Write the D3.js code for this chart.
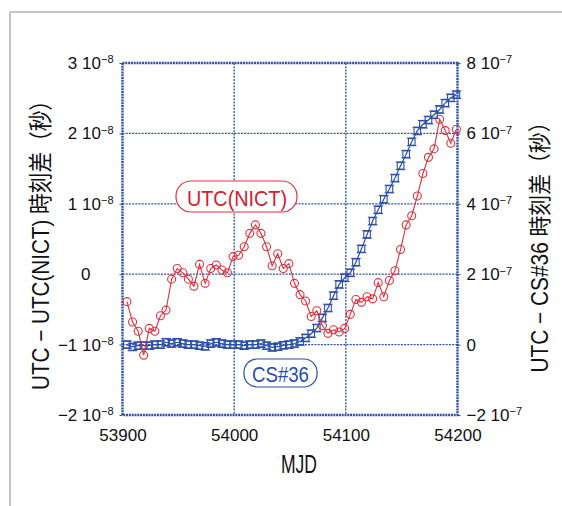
<!doctype html>
<html lang="ja">
<head>
<meta charset="utf-8">
<script src="https://cdn.jsdelivr.net/npm/d3@7"></script>
<style>
  body { margin: 0; background: #fff; }
  text { font-family: "Liberation Sans", Arial, "Noto Sans CJK JP", sans-serif; fill: #111; }
</style>
</head>
<body>
<script>
// MJD of each point (5-day steps)
var mjd = [53904, 53909, 53914, 53919, 53924, 53929, 53934, 53939, 53944, 53949,
           53954, 53959, 53964, 53969, 53974, 53979, 53984, 53989, 53994, 53999,
           54004, 54009, 54014, 54019, 54024, 54029, 54034, 54039, 54044, 54049,
           54054, 54059, 54064, 54069, 54074, 54079, 54084, 54089, 54094, 54099,
           54104, 54109, 54114, 54119, 54124, 54129, 54134, 54139, 54144, 54149,
           54154, 54159, 54164, 54169, 54174, 54179, 54184, 54189, 54194, 54199];

// UTC - UTC(NICT), in units of 1e-8 s (left axis)
var nict = [-0.39, -0.68, -0.81, -1.15, -0.77, -0.81, -0.59, -0.51, -0.07, 0.08,
            0.02, -0.07, -0.17, 0.14, -0.13, 0.08, 0.13, 0.06, 0.02, 0.25,
            0.27, 0.39, 0.58, 0.70, 0.58, 0.39, 0.12, 0.29, 0.08, 0.15,
            -0.13, -0.29, -0.38, -0.60, -0.52, -0.73, -0.84, -0.79, -0.82, -0.77,
            -0.57, -0.36, -0.40, -0.32, -0.35, -0.12, -0.32, -0.09, 0.05, 0.35,
            0.70, 0.83, 1.11, 1.43, 1.66, 1.78, 2.20, 2.04, 1.86, 2.06];

// UTC - CS#36, in units of 1e-7 s (right axis)
var cs36 = [0, -0.066, -0.03, -0.03, -0.03, 0, 0, 0.066, 0.03, 0.066,
            0.03, 0, 0, -0.03, -0.05, 0.03, 0.066, 0.03, 0, 0,
            0, -0.03, 0, 0, 0.03, -0.03, -0.08, -0.06, -0.02, 0,
            0.03, 0.09, 0.19, 0.31, 0.47, 0.76, 1.04, 1.39, 1.71, 1.90,
            2.04, 2.34, 2.72, 3.13, 3.51, 3.83, 4.13, 4.42, 4.73, 5.08,
            5.41, 5.76, 6.07, 6.26, 6.38, 6.53, 6.68, 6.86, 7.01, 7.10];

var xTicks = [53900, 54000, 54100, 54200];
var leftTicks = [-2, -1, 0, 1, 2, 3];     // x 1e-8
var rightTicks = [-2, 0, 2, 4, 6, 8];     // x 1e-7

var W = 562, H = 506;
var blue = "#2b4ea8", red = "#e0303c";
var plot = {left: 122.5, right: 457.5, top: 63, bottom: 415};

var svg = d3.select("body").append("svg")
            .attr("width", W)
            .attr("height", H);

// outer grey border (top + left)
svg.append("line").attr("x1", 10).attr("x2", W).attr("y1", 12).attr("y2", 12)
   .attr("stroke", "#c4c4c4").attr("stroke-width", 2);
svg.append("line").attr("x1", 10).attr("x2", 10).attr("y1", 12).attr("y2", H)
   .attr("stroke", "#c4c4c4").attr("stroke-width", 2);

var x = d3.scaleLinear().domain([53900, 54200]).range([plot.left, plot.right]);
var yL = d3.scaleLinear().domain([-2, 3]).range([plot.bottom, plot.top]);
var yR = d3.scaleLinear().domain([-2, 8]).range([plot.bottom, plot.top]);

// grid
var grid = svg.append("g")
              .attr("stroke", blue)
              .attr("stroke-width", 1.3)
              .attr("stroke-dasharray", "2,1.2");
grid.selectAll(".gx").data(xTicks.slice(1, -1)).enter().append("line")
    .attr("x1", d => x(d)).attr("x2", d => x(d))
    .attr("y1", plot.top).attr("y2", plot.bottom);
grid.selectAll(".gy").data(leftTicks.slice(1, -1)).enter().append("line")
    .attr("x1", plot.left).attr("x2", plot.right)
    .attr("y1", d => yL(d)).attr("y2", d => yL(d));

// frame
svg.append("rect")
   .attr("x", plot.left).attr("y", plot.top)
   .attr("width", plot.right - plot.left).attr("height", plot.bottom - plot.top)
   .attr("fill", "none").attr("stroke", blue).attr("stroke-width", 2.4)
   .attr("stroke-dasharray", "2,0.8");

// axes
function supLabel(sel, exp) {
    sel.each(function(d) {
        var t = d3.select(this).text(null);
        if (d === 0) { t.text("0"); return; }
        t.append("tspan").text(String(d).replace("-", "\u2212") + "  10");
        t.append("tspan").attr("font-size", 11).attr("dy", "-0.5em").text("\u2212" + exp);
    });
}

var gL = svg.append("g")
            .attr("transform", "translate(" + plot.left + ",0)")
            .call(d3.axisLeft(yL).tickValues(leftTicks).tickSize(3).tickPadding(6));
gL.select(".domain").remove();
gL.selectAll(".tick line").attr("stroke", blue);
gL.selectAll(".tick text").attr("font-size", 17).attr("fill", "#111").call(supLabel, "8");
gL.selectAll(".tick text").filter(d => d === 0).attr("x", -32);

var gR = svg.append("g")
            .attr("transform", "translate(" + plot.right + ",0)")
            .call(d3.axisRight(yR).tickValues(rightTicks).tickSize(3).tickPadding(6));
gR.select(".domain").remove();
gR.selectAll(".tick line").attr("stroke", blue);
gR.selectAll(".tick text").attr("font-size", 17).attr("fill", "#111").call(supLabel, "7");

var gB = svg.append("g")
            .attr("transform", "translate(0," + plot.bottom + ")")
            .call(d3.axisBottom(x).tickValues(xTicks).tickSize(0).tickPadding(14).tickFormat(d3.format("d")));
gB.select(".domain").remove();
gB.selectAll(".tick text").attr("font-size", 17).attr("fill", "#111");

// axis titles
svg.append("text")
   .attr("x", 299).attr("y", 473)
   .attr("text-anchor", "middle")
   .attr("font-size", 25)
   .attr("textLength", 36).attr("lengthAdjust", "spacingAndGlyphs")
   .text("MJD");

svg.append("text")
   .attr("transform", "translate(49,240) rotate(-90)")
   .attr("text-anchor", "middle")
   .attr("font-size", 24)
   .attr("textLength", 300).attr("lengthAdjust", "spacingAndGlyphs")
   .text("UTC \u2212 UTC(NICT) 時刻差（秒）");

svg.append("text")
   .attr("transform", "translate(548,242) rotate(-90)")
   .attr("text-anchor", "middle")
   .attr("font-size", 23)
   .attr("textLength", 261).attr("lengthAdjust", "spacingAndGlyphs")
   .text("UTC \u2212 CS#36 時刻差（秒）");

// series: CS#36 (right axis)
var blueLine = d3.line().x((d, i) => x(mjd[i])).y(d => yR(d));
svg.append("path").datum(cs36)
   .attr("d", blueLine).attr("fill", "none")
   .attr("stroke", blue).attr("stroke-width", 1.2);
var bm = svg.selectAll(".bm").data(cs36).enter().append("g")
            .attr("transform", (d, i) => "translate(" + x(mjd[i]) + "," + yR(d) + ")")
            .attr("stroke", blue).attr("stroke-width", 1.1).attr("fill", "none");
bm.append("rect").attr("x", -3.3).attr("y", -3.3).attr("width", 6.6).attr("height", 6.6);
bm.append("line").attr("x1", -4.8).attr("x2", 4.8).attr("y1", -3.8).attr("y2", -3.8);
bm.append("line").attr("x1", -4.8).attr("x2", 4.8).attr("y1", 3.8).attr("y2", 3.8);

// series: UTC(NICT) (left axis)
var redLine = d3.line().x((d, i) => x(mjd[i])).y(d => yL(d));
svg.append("path").datum(nict)
   .attr("d", redLine).attr("fill", "none")
   .attr("stroke", red).attr("stroke-width", 1.1);
svg.selectAll(".rm").data(nict).enter().append("circle")
   .attr("cx", (d, i) => x(mjd[i])).attr("cy", d => yL(d))
   .attr("r", 4).attr("fill", "none")
   .attr("stroke", red).attr("stroke-width", 1.1);

// legend boxes
svg.append("rect")
   .attr("x", 176).attr("y", 181).attr("width", 121).attr("height", 31).attr("rx", 15)
   .attr("fill", "#fff").attr("stroke", red).attr("stroke-width", 1.2);
svg.append("text")
   .attr("x", 237).attr("y", 206)
   .attr("text-anchor", "middle").attr("font-size", 22).style("fill", "#d42030")
   .attr("textLength", 100).attr("lengthAdjust", "spacingAndGlyphs")
   .text("UTC(NICT)");

svg.append("rect")
   .attr("x", 244).attr("y", 359).attr("width", 73).attr("height", 28).attr("rx", 13)
   .attr("fill", "#fff").attr("stroke", blue).attr("stroke-width", 1.2);
svg.append("text")
   .attr("x", 280.5).attr("y", 382)
   .attr("text-anchor", "middle").attr("font-size", 22).style("fill", blue)
   .attr("textLength", 57).attr("lengthAdjust", "spacingAndGlyphs")
   .text("CS#36");
</script>
</body>
</html>
